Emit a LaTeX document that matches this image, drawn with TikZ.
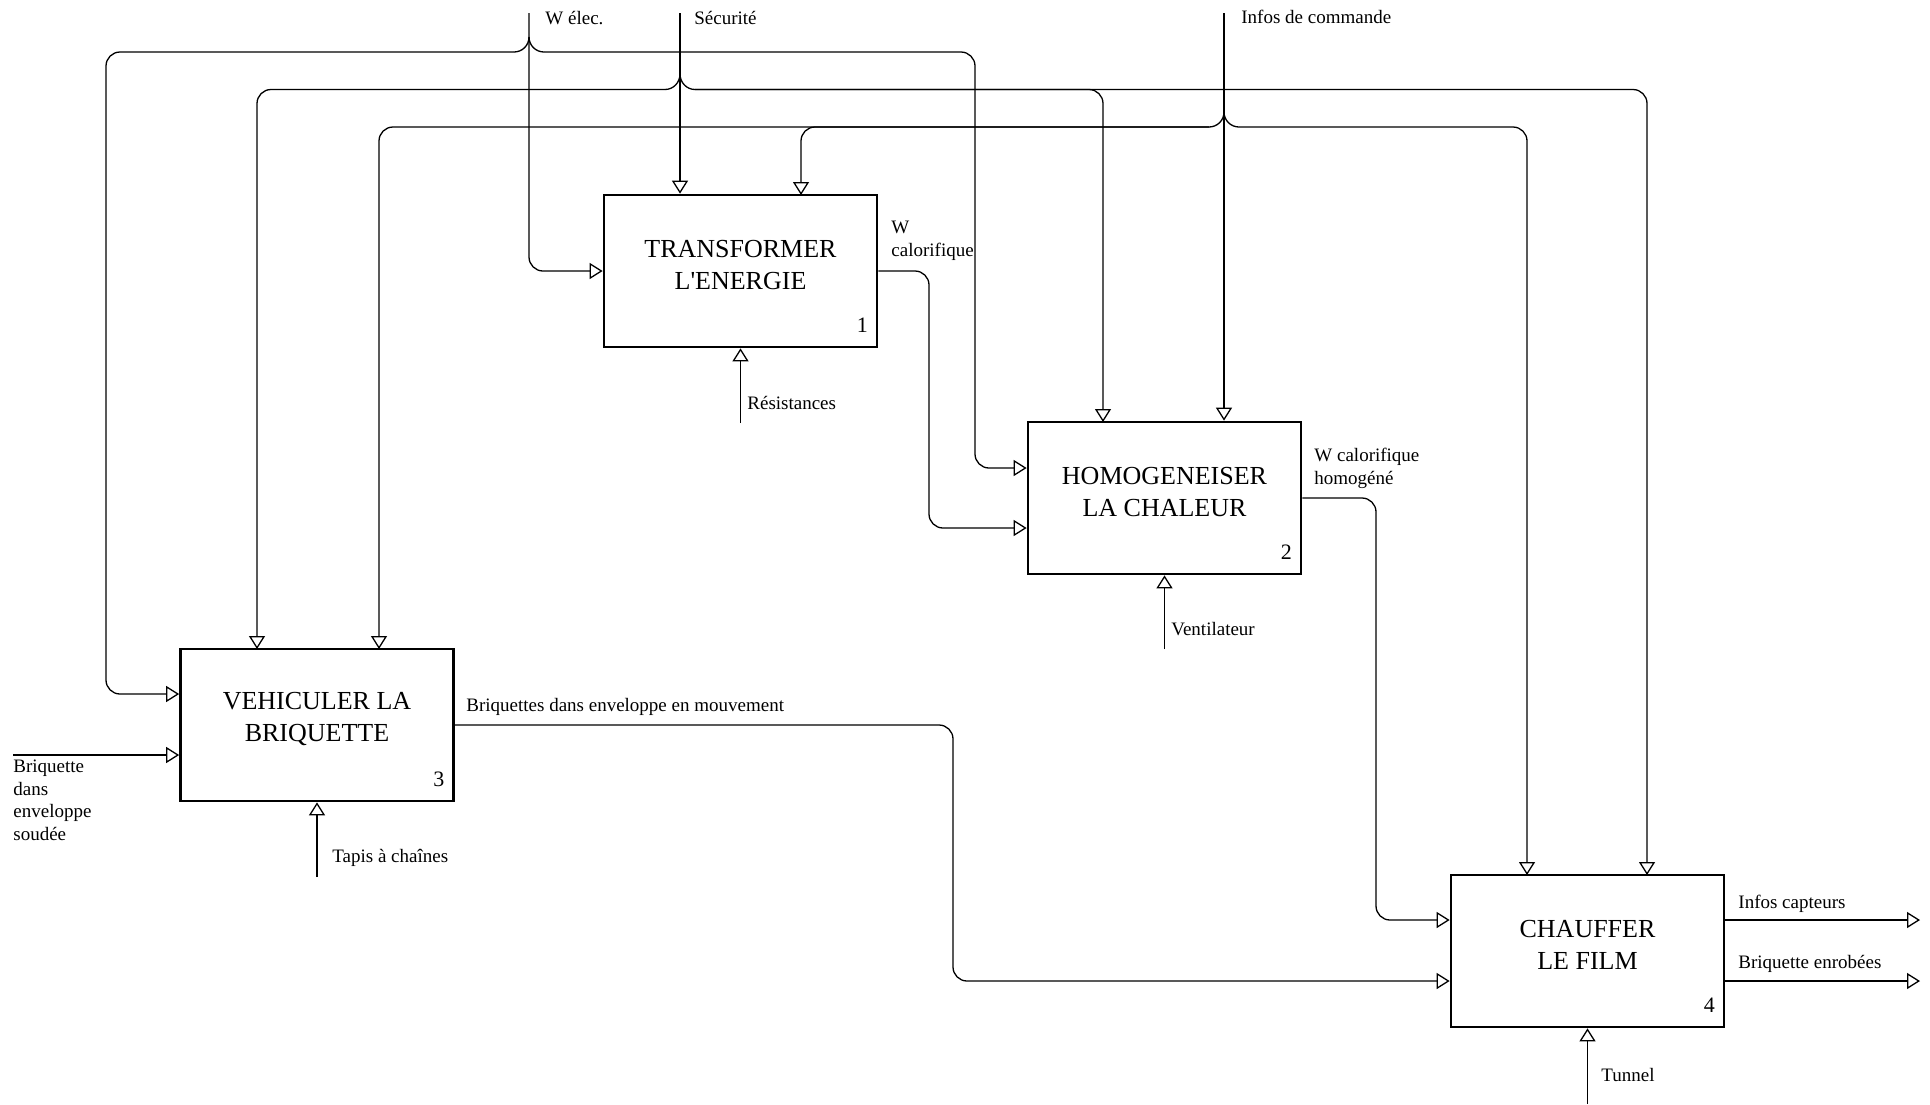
\documentclass[tikz,border=0pt]{standalone}
\usepackage{fontspec}
\setmainfont{Liberation Serif}[Ligatures=TeXOff]
\usetikzlibrary{arrows.meta}
\begin{document}
\begin{tikzpicture}[x=0.5pt,y=-0.5pt,
  box/.style={draw, line width=1.35pt, minimum width=136.5pt, minimum height=76pt, inner sep=0pt},
  boxtxt/.style={font=\fontsize{13}{15.75}\selectfont, align=center, inner sep=0pt},
  num/.style={font=\fontsize{11}{13}\selectfont, inner sep=0pt, anchor=base},
  lab/.style={font=\fontsize{9.5}{11.25}\selectfont, inner sep=0pt, anchor=base west},
  mlab/.style={font=\fontsize{9.5}{11.25}\selectfont, inner sep=0pt, anchor=north west, align=left},
  line/.style={line width=0.65pt, rounded corners=7pt},
  flow/.style={line, -{Triangle[open, length=6.5pt, width=8pt]}}]
\useasboundingbox (0,0) rectangle (1930,1104);

% boxes
\node[box] (b1) at (740.5,271) {};
\node[boxtxt] (t1) at ([yshift=3pt]b1.center) {TRANSFORMER\\L'ENERGIE};
\node[num] (n1) at ([xshift=-8pt,yshift=8pt]b1.south east) {1};

\node[box] (b2) at (1164.5,498) {};
\node[boxtxt] (t2) at ([yshift=3pt]b2.center) {HOMOGENEISER\\LA CHALEUR};
\node[num] (n2) at ([xshift=-8pt,yshift=8pt]b2.south east) {2};

\node[box] (b3) at (317,725) {};
\node[boxtxt] (t3) at ([yshift=3pt]b3.center) {VEHICULER LA\\BRIQUETTE};
\node[num] (n3) at ([xshift=-8pt,yshift=8pt]b3.south east) {3};

\node[box] (b4) at (1587.5,951) {};
\node[boxtxt] (t4) at ([yshift=3pt]b4.center) {CHAUFFER\\LE FILM};
\node[num] (n4) at ([xshift=-8pt,yshift=8pt]b4.south east) {4};

% free ends and junctions
\coordinate (welec) at (529,13);
\coordinate (welecj) at (529,37);
\coordinate (welecL) at (514,52);
\coordinate (welecR) at (544,52);
\coordinate (secu) at (680,13);
\coordinate (secuj) at (680,74);
\coordinate (secuL) at (665,89.5);
\coordinate (secuR) at (695,89.5);
\coordinate (infos) at (1224,13);
\coordinate (infosj) at (1224,112);
\coordinate (infosL) at (1209,127);
\coordinate (infosR) at (1239,127);
\coordinate (inbriq) at (13,755);
\coordinate (outA) at (1920,920);
\coordinate (outB) at (1920,981);
\coordinate (m1) at (740.5,423);
\coordinate (m2) at (1164.5,649);
\coordinate (m3) at (317,877);
\coordinate (m4) at (1587.5,1104);

% W elec.
\draw[flow] (welec) -- (welec |- b1.west) -- (b1.west);
\draw[line] (welecj) to[out=-90,in=0] (welecL);
\draw[line] (welecj) to[out=-90,in=180] (welecR);
\draw[flow] (welecL) -- (106,52) -- (106,694) -- (b3.west |- 0,694);
\draw[flow] (welecR) -- (975,52) -- (975,468) -- (b2.west |- 0,468);

% Securite
\draw[flow] (secu) -- (secu |- b1.north);
\draw[line] (secuj) to[out=-90,in=0] (secuL);
\draw[line] (secuj) to[out=-90,in=180] (secuR);
\draw[flow] (secuL) -- (257,89.5) -- (257,649);
\draw[flow] (secuR) -- (1647,89.5) -- (1647,875);
\draw[flow] (secuR) -- (1103,89.5) -- (1103,422);

% Infos de commande
\draw[flow] (infos) -- (infos |- b2.north);
\draw[line] (infosj) to[out=-90,in=0] (infosL);
\draw[line] (infosj) to[out=-90,in=180] (infosR);
\draw[flow] (infosL) -- (379,127) -- (379,649);
\draw[flow] (infosL) -- (801,127) -- (801,195);
\draw[flow] (infosR) -- (1527,127) -- (1527,875);

% flows between boxes
\draw[flow] (b1.east) -- (929,271) -- (929,528) -- (b2.west |- 0,528);
\draw[flow] (b2.east) -- (1376,498) -- (1376,920) -- (b4.west |- 0,920);
\draw[flow] (b3.east) -- (953,725) -- (953,981) -- (b4.west |- 0,981);
\draw[flow] (inbriq) -- (b3.west |- inbriq);
\draw[flow] (b4.east |- outA) -- (outA);
\draw[flow] (b4.east |- outB) -- (outB);

% mechanisms
\draw[flow] (m1) -- (b1.south);
\draw[flow] (m2) -- (b2.south);
\draw[flow] (m3) -- (b3.south);
\draw[flow] (m4) -- (b4.south);

% labels
\node[lab] (lwelec) at (545,24) {W élec.};
\node[lab] (lsecu) at (694,24) {Sécurité};
\node[lab] (linfos) at (1241,23) {Infos de commande};
\node[mlab] (lwcal) at (891,221) {W\\calorifique};
\node[mlab] (lwcalh) at (1314,448) {W calorifique\\homogéné};
\node[lab] (lbriqm) at (466,711) {Briquettes dans enveloppe en mouvement};
\node[mlab] (lbriq) at (13,760) {Briquette\\dans\\enveloppe\\soudée};
\node[lab] (lres) at (747,409) {Résistances};
\node[lab] (lvent) at (1171,635) {Ventilateur};
\node[lab] (ltapis) at (332,862) {Tapis à chaînes};
\node[lab] (ltun) at (1601,1081) {Tunnel};
\node[lab] (lcapt) at (1738,908) {Infos capteurs};
\node[lab] (lenrob) at (1738,968) {Briquette enrobées};
\end{tikzpicture}
\end{document}
